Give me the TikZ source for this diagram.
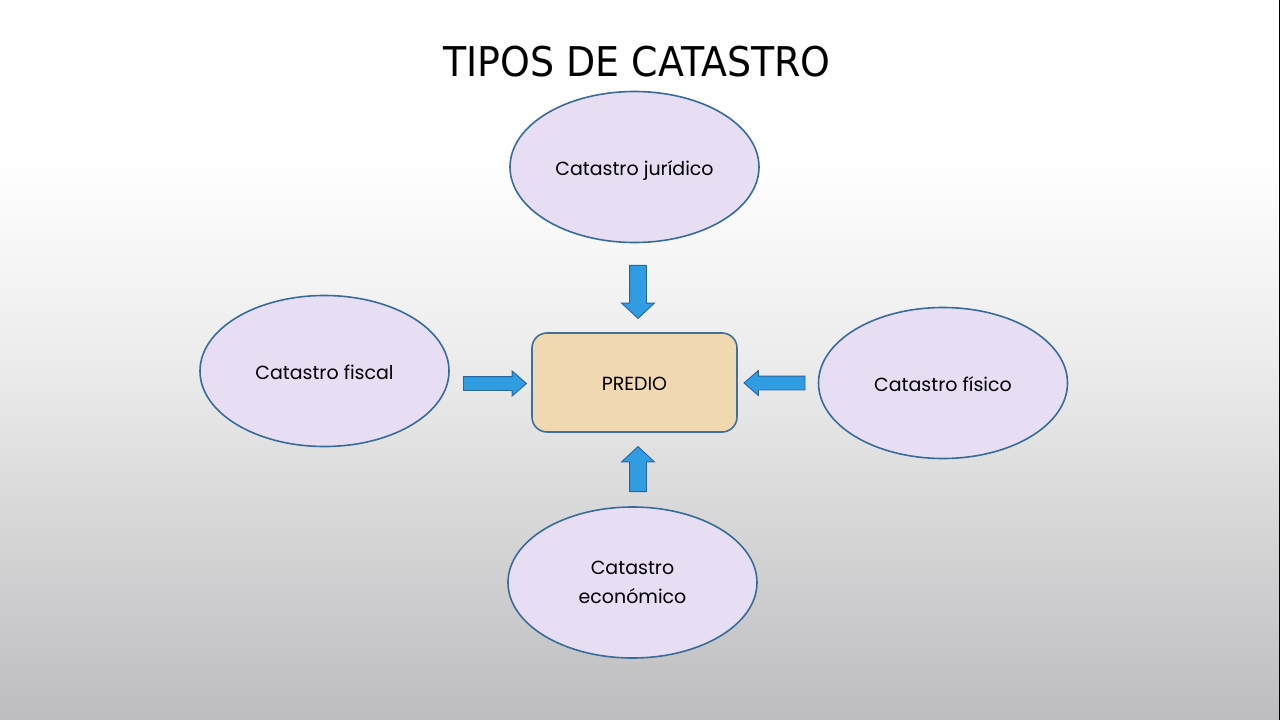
\documentclass[tikz,border=0pt]{standalone}
\usepackage{fontspec}
\setmainfont{Poppins}
\newfontfamily\titlefont{DejaVu Sans}
\usetikzlibrary{shapes.geometric,shapes.arrows}
\definecolor{ellfill}{RGB}{232,222,244}
\definecolor{ellline}{RGB}{56,108,150}
\definecolor{boxfill}{RGB}{240,216,176}
\definecolor{boxline}{RGB}{64,112,150}
\definecolor{arrfill}{RGB}{48,156,226}
\definecolor{arrline}{RGB}{40,100,160}
\definecolor{bgbot}{RGB}{189,189,191}
\definecolor{bgmid}{RGB}{236,236,237}
\pgfdeclareverticalshading{bgshade}{100bp}{color(0bp)=(bgbot); color(25bp)=(bgbot); color(50bp)=(bgmid); color(64bp)=(white); color(100bp)=(white)}
\tikzset{
  tipo/.style={ellipse, draw=ellline, line width=1.6pt, fill=ellfill, minimum width=249pt, minimum height=151pt, inner sep=0pt, align=center, text height=18pt, text depth=2pt, font=\fontsize{19}{29}\selectfont},
  centro/.style={rectangle, rounded corners=15pt, draw=boxline, line width=1.6pt, fill=boxfill, minimum width=205pt, minimum height=99pt, text height=18pt, text depth=2pt, font=\fontsize{19}{24}\selectfont},
  flechav/.style={single arrow, draw=arrline, line width=0.9pt, fill=arrfill, inner xsep=8pt, inner ysep=0pt, single arrow head extend=8pt, single arrow tip angle=94},
  flechah/.style={single arrow, draw=arrline, line width=0.9pt, fill=arrfill, inner xsep=0pt, inner ysep=6.5pt, single arrow head extend=5.5pt, single arrow tip angle=82}
}
\begin{document}
\begin{tikzpicture}[x=1pt,y=-1pt]
\useasboundingbox (0,0) rectangle (1280,720);
\shade[shading=bgshade] (0,0) rectangle (1280,720);
\fill[black] (1278.5,0) rectangle (1280,720);
\node[font=\titlefont\fontsize{41}{44}\selectfont, inner sep=0pt] (titulo) at (637,62) {\scalebox{0.925}[1]{TIPOS DE CATASTRO}};
\node[centro] (predio) at (634.5,382.5) {PREDIO};
\node[tipo] (juridico) at (634.5,167) {Catastro jurídico};
\node[tipo] (fiscal) at (324.5,371) {Catastro fiscal};
\node[tipo] (fisico) at (943,383) {Catastro físico};
\node[tipo, text height={}, text depth={}] (economico) at (632.5,582.5) {Catastro\\económico};
\node[flechav, minimum height=53pt, shape border rotate=270] (fj) at (638,288) {};
\node[flechah, minimum height=63pt, shape border rotate=0] (ff) at (491,383.5) {};
\node[flechah, minimum height=61pt, shape border rotate=180] (fs) at (778.5,383) {};
\node[flechav, minimum height=45pt, shape border rotate=90] (fe) at (638,473) {};
\end{tikzpicture}
\end{document}
